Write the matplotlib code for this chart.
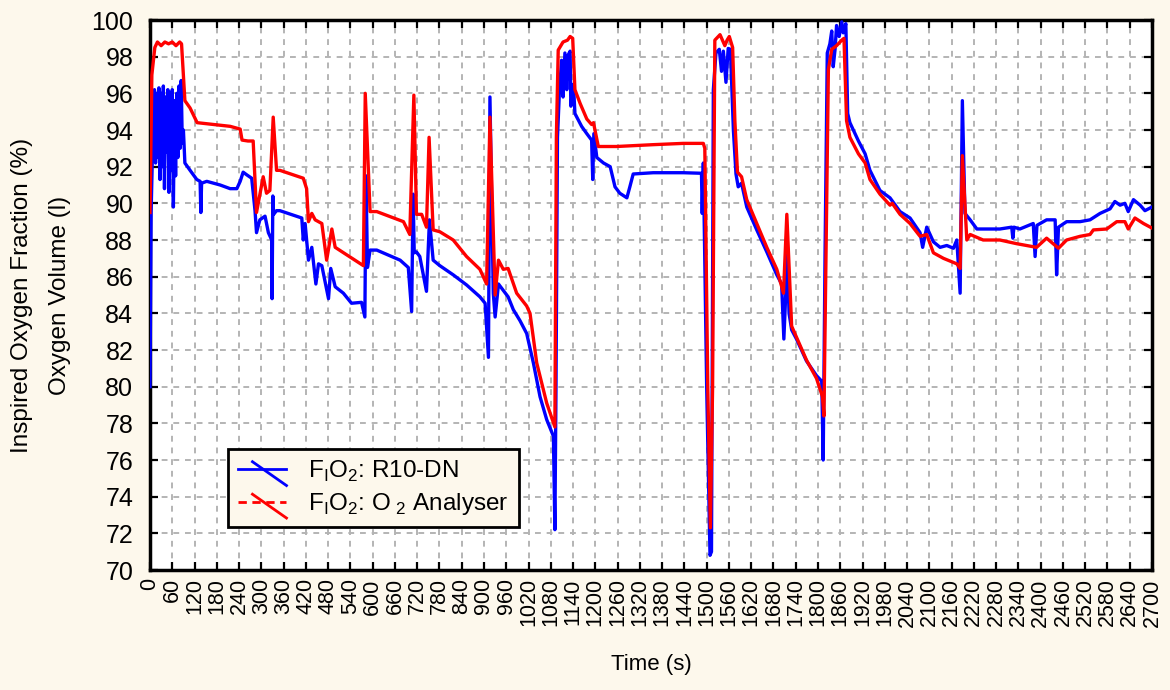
import matplotlib
matplotlib.use("Agg")
import matplotlib.pyplot as plt
import numpy as np
from matplotlib.lines import Line2D
from matplotlib.legend_handler import HandlerBase

plt.rcParams['font.family'] = ['Liberation Sans', 'DejaVu Sans']
plt.rcParams['mathtext.fontset'] = 'custom'
plt.rcParams['mathtext.rm'] = 'Liberation Sans'

# FIO2 from the R10-DN sensor (time in s, value in %)
t_r10 = [0, 3, 8, 12, 15, 18, 21, 24, 27, 30, 33, 36, 39, 42, 45, 48, 51, 54, 57, 60,
         63, 66, 69, 72, 75, 78, 81, 84, 87, 90, 94, 108, 126, 135, 137, 139, 153, 189,
         216, 234, 243, 251, 261, 274, 283, 287, 296, 310, 319, 328, 329, 331, 333, 341,
         350, 409, 413, 418, 427, 436, 447, 454, 463, 481, 487, 499, 521, 543, 570, 579,
         582, 586, 593, 611, 674, 696, 705, 709, 712, 718, 727, 745, 753, 763, 781, 817,
         853, 889, 903, 912, 916, 925, 930, 939, 965, 979, 997, 1015, 1033, 1051, 1069,
         1087, 1091, 1094, 1098, 1103, 1109, 1113, 1118, 1123, 1127, 1132, 1134, 1141,
         1145, 1163, 1177, 1190, 1193, 1196, 1204, 1222, 1240, 1253, 1266, 1285, 1293,
         1302, 1356, 1437, 1486, 1488, 1491, 1500, 1509, 1513, 1518, 1525, 1534, 1540,
         1545, 1552, 1558, 1564, 1572, 1579, 1585, 1594, 1608, 1635, 1662, 1689, 1702,
         1708, 1713, 1716, 1722, 1729, 1742, 1769, 1796, 1810, 1814, 1819, 1825, 1832,
         1837, 1841, 1846, 1850, 1857, 1864, 1868, 1875, 1880, 1886, 1909, 1927, 1940,
         1967, 1994, 2021, 2048, 2075, 2082, 2093, 2111, 2129, 2147, 2165, 2174, 2183,
         2189, 2196, 2210, 2228, 2254, 2290, 2322, 2325, 2328, 2344, 2380, 2385, 2390,
         2416, 2439, 2443, 2448, 2470, 2506, 2533, 2560, 2587, 2600, 2614, 2627, 2636,
         2650, 2668, 2681, 2700]
v_r10 = [80.0, 89.5, 94.0, 96.2, 92.2, 96.0, 92.5, 96.3, 91.3, 96.0, 92.0, 96.4, 90.8,
         95.8, 92.8, 96.2, 90.6, 96.0, 91.8, 96.2, 89.8, 95.6, 91.5, 96.0, 92.5, 96.4,
         93.0, 96.7, 93.3, 94.0, 92.2, 91.8, 91.3, 91.2, 89.5, 91.1, 91.2, 91.0, 90.8,
         90.8, 91.2, 91.7, 91.55, 91.37, 89.6, 88.4, 89.1, 89.3, 88.4, 88.0, 84.8, 90.4,
         89.4, 89.6, 89.6, 89.2, 88.0, 88.9, 86.9, 87.6, 85.6, 86.7, 86.6, 84.8, 86.45,
         85.45, 85.1, 84.55, 84.6, 83.8, 91.5, 86.5, 87.45, 87.45, 86.9, 86.5, 84.1, 90.5,
         87.3, 87.35, 87.1, 85.2, 89.1, 86.9, 86.6, 86.1, 85.55, 84.9, 84.55, 81.6, 95.8,
         85.1, 83.8, 85.6, 84.9, 84.2, 83.6, 82.9, 81.3, 79.45, 78.2, 77.3, 72.2, 80.0,
         93.6, 96.0, 97.8, 95.8, 98.2, 96.2, 98.1, 98.3, 95.3, 96.5, 94.9, 94.2, 93.8,
         93.45, 91.3, 93.8, 92.5, 92.2, 92.0, 90.9, 90.55, 90.3, 90.9, 91.6, 91.67, 91.67,
         91.64, 89.45, 92.2, 80.0, 70.8, 71.0, 96.2, 98.2, 98.4, 97.2, 98.3, 96.6, 98.45,
         98.4, 94.0, 91.6, 90.9, 91.1, 89.8, 88.55, 87.35, 86.1, 85.6, 82.6, 85.0, 88.0,
         84.0, 83.1, 82.6, 81.4, 80.6, 80.3, 76.0, 87.3, 98.2, 98.7, 99.4, 97.45, 98.4,
         99.7, 99.1, 99.9, 99.3, 99.8, 94.9, 94.4, 93.4, 92.7, 91.8, 90.7, 90.3, 89.55,
         89.2, 88.4, 87.6, 88.7, 87.9, 87.6, 87.7, 87.55, 88.0, 85.1, 95.6, 89.45, 89.1,
         88.6, 88.6, 88.6, 88.7, 88.1, 88.7, 88.6, 88.9, 87.1, 88.8, 89.1, 89.1, 86.1,
         88.7, 89.0, 89.0, 89.1, 89.45, 89.7, 90.1, 89.9, 90.0, 89.55, 90.2, 89.9, 89.6,
         89.8]

# FIO2 from the O2 analyser
t_o2 = [0, 5, 13, 20, 30, 40, 50, 60, 70, 80, 85, 94, 108, 127, 216, 243, 248, 264, 278,
        287, 305, 314, 323, 332, 341, 350, 413, 422, 427, 436, 445, 463, 476, 490, 499,
        575, 580, 593, 611, 683, 700, 711, 718, 732, 745, 752, 763, 781, 817, 853, 889,
        907, 916, 930, 939, 952, 965, 988, 1015, 1024, 1042, 1069, 1091, 1095, 1100,
        1113, 1125, 1132, 1139, 1145, 1159, 1177, 1190, 1195, 1208, 1257, 1356, 1437,
        1491, 1495, 1503, 1510, 1516, 1522, 1536, 1549, 1555, 1561, 1570, 1576, 1583,
        1594, 1608, 1635, 1662, 1689, 1707, 1716, 1729, 1742, 1769, 1796, 1812, 1816,
        1828, 1837, 1850, 1864, 1870, 1877, 1886, 1909, 1927, 1940, 1967, 1994, 2000,
        2021, 2048, 2075, 2093, 2111, 2138, 2174, 2183, 2189, 2201, 2210, 2245, 2290,
        2335, 2389, 2416, 2448, 2470, 2506, 2533, 2542, 2578, 2605, 2627, 2636, 2654,
        2677, 2700]
v_o2 = [89.5, 97.0, 98.5, 98.8, 98.6, 98.8, 98.7, 98.8, 98.6, 98.8, 98.7, 95.6, 95.2,
        94.4, 94.2, 94.05, 93.45, 93.4, 93.4, 89.5, 91.45, 90.55, 90.7, 94.7, 91.8, 91.8,
        91.37, 90.8, 89.0, 89.45, 89.1, 88.9, 86.9, 88.6, 87.6, 86.6, 96.0, 89.55, 89.55,
        89.0, 88.3, 95.9, 89.4, 89.4, 88.7, 93.6, 88.55, 88.45, 88.0, 87.1, 86.4, 85.6,
        94.7, 85.0, 86.9, 86.4, 86.45, 85.1, 84.4, 84.0, 81.3, 79.1, 77.8, 93.6, 98.36,
        98.8, 98.9, 99.1, 99.0, 96.2, 95.45, 94.6, 94.3, 94.4, 93.1, 93.1, 93.2, 93.27,
        93.27, 93.0, 80.0, 72.3, 80.0, 98.9, 99.2, 98.6, 98.9, 99.1, 98.5, 94.5, 91.7,
        91.45, 90.2, 88.9, 87.6, 86.4, 85.1, 89.4, 83.3, 82.7, 81.45, 80.45, 79.45, 78.4,
        97.3, 98.4, 98.6, 98.9, 99.0, 94.5, 93.6, 92.7, 92.2, 91.3, 90.5, 89.9, 90.0, 89.4,
        88.9, 88.2, 88.3, 87.3, 87.0, 86.7, 86.45, 92.6, 88.0, 88.3, 88.0, 88.0, 87.8,
        87.6, 88.1, 87.55, 88.0, 88.2, 88.3, 88.55, 88.6, 89.0, 89.0, 88.6, 89.2, 88.9,
        88.65]

bg = '#fdf8ec'
fig = plt.figure(figsize=(11.7, 6.9), dpi=100, facecolor=bg)
ax = fig.add_axes([150 / 1170, 120 / 690, 1002 / 1170, 550 / 690])
ax.set_facecolor('white')

ax.plot(t_r10, v_r10, color='#0000ff', lw=2.4, zorder=3)
ax.plot(t_o2, v_o2, color='#ff0000', lw=2.4, zorder=4)

ax.set_xlim(0, 2700)
ax.set_ylim(70, 100)
ax.set_xticks(np.arange(0, 2701, 60))
ax.set_yticks(np.arange(70, 101, 2))
ax.tick_params(axis='x', labelrotation=90, labelsize=15.5, pad=6)
ax.tick_params(axis='y', labelsize=18, pad=12)
ax.tick_params(direction='in', length=6, width=1.6, top=True, right=True)
ax.grid(True, color='#b4b4b4', linestyle=(0, (3, 3)), lw=1.4, zorder=1)
for s in ax.spines.values():
    s.set_linewidth(2.5)

ax.set_xlabel('Time (s)', fontsize=16, labelpad=20)
ax.set_ylabel('Inspired Oxygen Fraction (%)\nOxygen Volume (l)', fontsize=17.5,
              linespacing=1.9, labelpad=15)


class CrossedLine(HandlerBase):
    # legend key: horizontal line crossed by a diagonal stroke
    def __init__(self, dashed=False):
        super().__init__()
        self.dashed = dashed

    def create_artists(self, legend, orig_handle, xdescent, ydescent, width, height,
                       fontsize, trans):
        c = orig_handle.get_color()
        yc = height / 2 - ydescent
        ls = (0, (3, 2)) if self.dashed else '-'
        h = Line2D([-xdescent, width - xdescent], [yc, yc], color=c, lw=2, ls=ls,
                   transform=trans)
        d = Line2D([-xdescent + width * 0.3, width - xdescent], [height * 0.95, -height * 0.45],
                   color=c, lw=2, transform=trans)
        return [h, d]


h1 = Line2D([], [], color='#0000ff')
h2 = Line2D([], [], color='#ff0000')
leg = ax.legend([h1, h2],
                [r'F$_{\mathregular{I}}$O$_{\mathregular{2}}$: R10-DN',
                 r'F$_{\mathregular{I}}$O$_{\mathregular{2}}$: O$_{\mathregular{\ 2}}$ Analyser'],
                handler_map={h1: CrossedLine(), h2: CrossedLine(dashed=True)},
                loc='lower left', bbox_to_anchor=(0.078, 0.078), fontsize=17.5,
                frameon=True, fancybox=False, facecolor=bg, framealpha=1,
                edgecolor='black', handlelength=2.0, handletextpad=0.9, borderpad=0.4,
                labelspacing=0.3, borderaxespad=0)
leg.get_frame().set_linewidth(2)
leg.set_zorder(6)

fig.savefig('out.png', dpi=100, facecolor=bg)
